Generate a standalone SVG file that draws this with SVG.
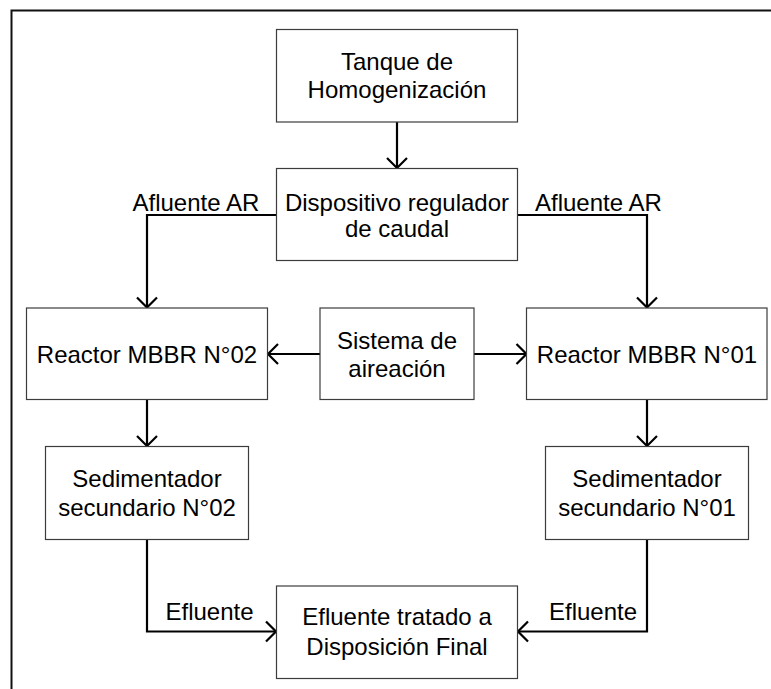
<svg xmlns="http://www.w3.org/2000/svg" width="771" height="689" viewBox="0 0 771 689">
<style>
.box{fill:#fff;stroke:#3c3c3c;stroke-width:1.2}
.t{font-family:"Liberation Sans",Arial,sans-serif;font-size:24px;fill:#000;text-anchor:middle}
.l{font-family:"Liberation Sans",Arial,sans-serif;font-size:24px;fill:#000}
.c{fill:none;stroke:#000;stroke-width:2.2}
</style>
<defs>
<marker id="ah" viewBox="-12 -12 14 24" markerWidth="14" markerHeight="24" refX="0" refY="0" orient="auto" markerUnits="userSpaceOnUse" overflow="visible">
<path d="M-10,-10 L0,0 L-10,10" fill="none" stroke="#000" stroke-width="2.2"/>
</marker>
</defs>
<rect width="771" height="689" fill="#fff"/>
<path d="M11.5,700 V10.5 H780" fill="none" stroke="#111" stroke-width="2"/>
<g id="connectors">
<path class="c" d="M397,122 V168" marker-end="url(#ah)"/>
<path class="c" d="M276.5,215 H147 V307.5" marker-end="url(#ah)"/>
<path class="c" d="M517.5,215 H647 V307.5" marker-end="url(#ah)"/>
<path class="c" d="M320,354 H268" marker-end="url(#ah)"/>
<path class="c" d="M474,354 H526.5" marker-end="url(#ah)"/>
<path class="c" d="M147,399.5 V446" marker-end="url(#ah)"/>
<path class="c" d="M647,399.5 V446" marker-end="url(#ah)"/>
<path class="c" d="M147,539.5 V631.5 H276" marker-end="url(#ah)"/>
<path class="c" d="M647,539.5 V631.5 H518" marker-end="url(#ah)"/>
</g>
<g id="tanque">
<rect class="box" x="276.5" y="29.5" width="241" height="92.5"/>
<text class="t" x="397" y="69.5">Tanque de</text>
<text class="t" x="397" y="97.5">Homogenización</text>
</g>
<g id="dispositivo">
<rect class="box" x="276.5" y="168.5" width="241" height="92"/>
<text class="t" x="397" y="210.5">Dispositivo regulador</text>
<text class="t" x="397" y="236.5">de caudal</text>
</g>
<g id="reactor02">
<rect class="box" x="26.5" y="308" width="241" height="91.5"/>
<text class="t" x="147" y="362.5">Reactor MBBR N°02</text>
</g>
<g id="sistema">
<rect class="box" x="320" y="308" width="154" height="91.5"/>
<text class="t" x="397" y="348.5">Sistema de</text>
<text class="t" x="397" y="376.5">aireación</text>
</g>
<g id="reactor01">
<rect class="box" x="526.5" y="308" width="240.5" height="91.5"/>
<text class="t" x="647" y="362.5">Reactor MBBR N°01</text>
</g>
<g id="sed02">
<rect class="box" x="45.5" y="446.5" width="203" height="93"/>
<text class="t" x="147" y="486.5">Sedimentador</text>
<text class="t" x="147" y="515.5">secundario N°02</text>
</g>
<g id="sed01">
<rect class="box" x="545.5" y="446.5" width="203" height="93"/>
<text class="t" x="647" y="486.5">Sedimentador</text>
<text class="t" x="647" y="515.5">secundario N°01</text>
</g>
<g id="final">
<rect class="box" x="276.5" y="586" width="241" height="92.5"/>
<text class="t" x="397" y="625">Efluente tratado a</text>
<text class="t" x="397" y="655">Disposición Final</text>
</g>
<g id="labels">
<text class="l" x="132.5" y="210.5">Afluente AR</text>
<text class="l" x="535" y="210.5">Afluente AR</text>
<text class="l" x="165.5" y="620">Efluente</text>
<text class="l" x="549" y="620">Efluente</text>
</g>
</svg>
